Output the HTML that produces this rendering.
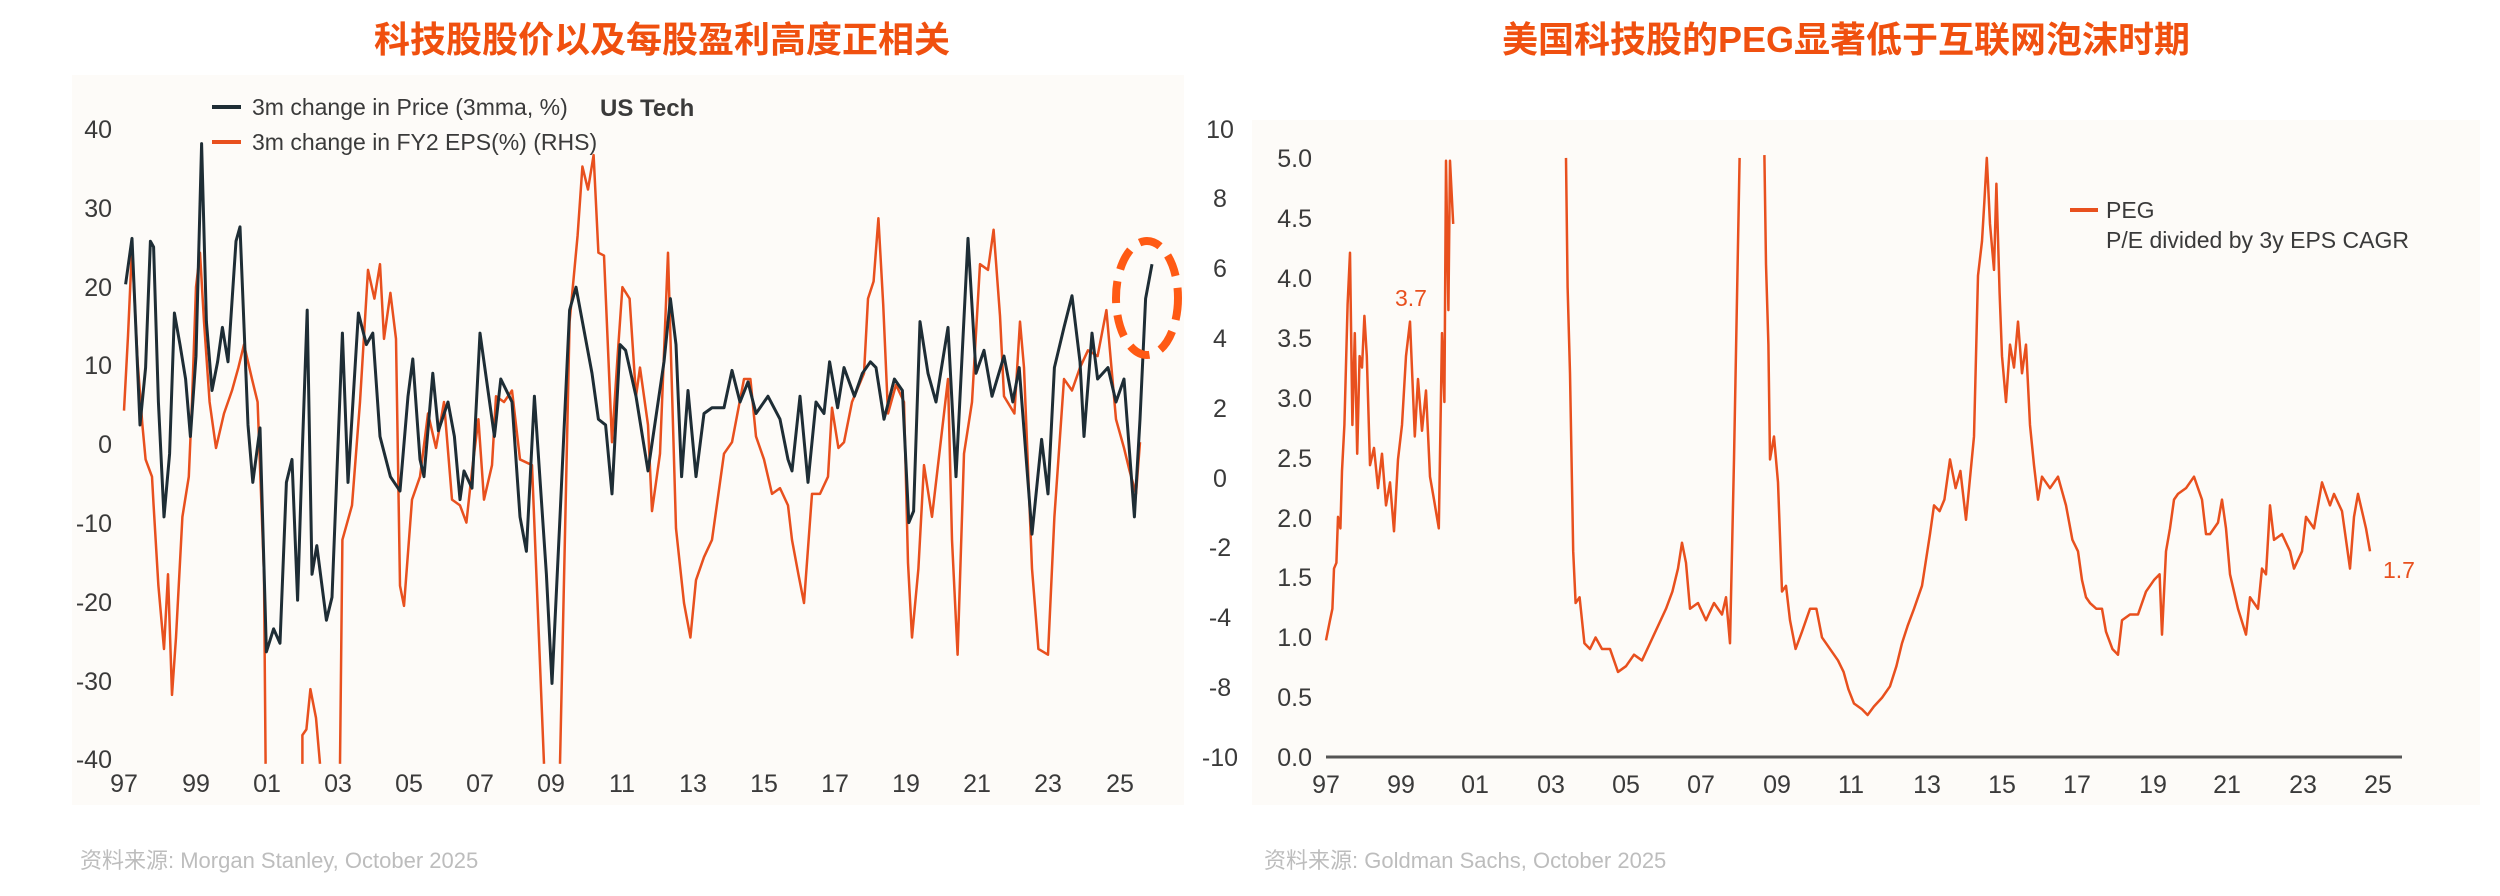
<!DOCTYPE html>
<html><head><meta charset="utf-8"><style>
html,body{margin:0;padding:0;background:#fff;}
body{width:2500px;height:896px;overflow:hidden;position:relative;}
svg{position:absolute;left:0;top:0;}
.t{font-family:"Liberation Sans Narrow","Liberation Sans",sans-serif;fill:#3a3a3a;font-size:25px;}
.ti{font-family:"Liberation Sans","Noto Sans CJK SC",sans-serif;font-weight:bold;fill:#f0500f;font-size:36px;}
.ft{font-family:"Liberation Sans","Noto Sans CJK SC",sans-serif;fill:#bdbdbd;font-size:22px;}
</style></head><body>
<svg width="2500" height="896" viewBox="0 0 2500 896">
<rect x="72" y="75" width="1112" height="730" fill="#fdfbf8"/>
<rect x="1252" y="120" width="1228" height="685" fill="#fdfbf8"/>
<text class="ti" x="662" y="52" text-anchor="middle">科技股股价以及每股盈利高度正相关</text>
<text class="ti" x="1846" y="52" text-anchor="middle">美国科技股的PEG显著低于互联网泡沫时期</text>
<text class="ft" x="80" y="868">资料来源: Morgan Stanley, October 2025</text>
<text class="ft" x="1264" y="868">资料来源: Goldman Sachs, October 2025</text>

<!-- Left chart labels -->
<g class="t" text-anchor="end">
<text x="112" y="138">40</text><text x="112" y="217">30</text><text x="112" y="296">20</text><text x="112" y="374">10</text><text x="112" y="453">0</text><text x="112" y="532">-10</text><text x="112" y="611">-20</text><text x="112" y="690">-30</text><text x="112" y="768">-40</text>
</g>
<g class="t" text-anchor="middle">
<text x="1220" y="138">10</text><text x="1220" y="207">8</text><text x="1220" y="277">6</text><text x="1220" y="347">4</text><text x="1220" y="417">2</text><text x="1220" y="487">0</text><text x="1220" y="556">-2</text><text x="1220" y="626">-4</text><text x="1220" y="696">-8</text><text x="1220" y="766">-10</text>
</g>
<g class="t" text-anchor="middle">
<text x="124" y="792">97</text><text x="196" y="792">99</text><text x="267" y="792">01</text><text x="338" y="792">03</text><text x="409" y="792">05</text><text x="480" y="792">07</text><text x="551" y="792">09</text><text x="622" y="792">11</text><text x="693" y="792">13</text><text x="764" y="792">15</text><text x="835" y="792">17</text><text x="906" y="792">19</text><text x="977" y="792">21</text><text x="1048" y="792">23</text><text x="1120" y="792">25</text>
</g>
<line x1="212" y1="107" x2="241" y2="107" stroke="#1e2d35" stroke-width="4"/>
<line x1="212" y1="142" x2="241" y2="142" stroke="#e8501e" stroke-width="4"/>
<text class="t" x="252" y="115" style="font-size:23px">3m change in Price (3mma, %)</text>
<text class="t" x="252" y="150" style="font-size:23px">3m change in FY2 EPS(%) (RHS)</text>
<text class="t" x="600" y="116" style="font-size:24px;font-weight:bold">US Tech</text>

<g transform="scale(0.8,0.5743)" fill="none" stroke-linejoin="round" vector-effect="non-scaling-stroke">
<polyline stroke="#e8501e" stroke-width="2.5" vector-effect="non-scaling-stroke" points="155,715 160,585 165,430 172,630 178,740 182,800 190,830 192,880 198,1020 205,1130 210,1000 215,1210 220,1110 228,900 236,830 240,700 245,500 250,440 255,560 262,700 270,780 280,720 290,680 298,640 305,600 315,660 322,700 330,1000 332,1330"/>
<polyline stroke="#e8501e" stroke-width="2.5" vector-effect="non-scaling-stroke" points="378,1330 378,1280 383,1270 388,1200 395,1250 400,1330"/>
<polyline stroke="#e8501e" stroke-width="2.5" vector-effect="non-scaling-stroke" points="425,1330 428,940 440,880 450,700 460,470 468,520 475,460 480,590 488,510 495,590 500,1020 505,1055 515,870 525,830 535,720 545,780 555,700 565,870 575,880 583,910 590,820 598,730 605,870 615,810 620,690 630,700 640,680 650,800 665,810 680,1330"/>
<polyline stroke="#e8501e" stroke-width="2.5" vector-effect="non-scaling-stroke" points="700,1330 705,1010 712,560 722,410 728,290 735,330 742,270 748,440 755,445 765,770 772,620 778,500 787,520 795,690 800,640 810,740 815,890 825,790 835,440 845,920 855,1050 863,1110 870,1010 880,970 890,940 900,840 905,790 915,770 930,660 938,660 945,760 955,800 965,860 975,850 985,880 990,940 998,1000 1005,1050 1015,860 1025,860 1035,830 1040,710 1048,780 1055,770 1065,700 1080,650 1085,520 1092,490 1098,380 1104,530 1110,720 1120,670 1130,700 1135,980 1140,1110 1148,990 1155,810 1165,900 1175,780 1185,660 1190,940 1197,1140 1205,790 1215,700 1225,460 1235,470 1242,400 1250,550 1255,690 1268,720 1275,560 1280,640 1290,990 1298,1130 1310,1140 1318,900 1330,660 1340,680 1350,640 1360,610 1372,620 1383,540 1395,730 1405,780 1412,820 1420,860 1425,770"/>
<polyline stroke="#1e2d35" stroke-width="3" vector-effect="non-scaling-stroke" points="157,495 165,415 175,740 182,640 188,420 192,430 198,700 205,900 212,790 218,545 225,600 232,660 238,760 245,620 252,250 258,560 265,680 272,630 278,570 285,630 295,420 300,395 310,740 316,840 325,745 333,1135 342,1095 350,1120 358,840 365,800 372,1045 378,780 384,540 390,1000 396,950 408,1080 415,1040 428,580 435,840 448,545 458,600 466,580 475,760 488,830 500,855 510,690 516,625 525,800 530,830 541,650 548,750 560,700 568,760 575,870 580,820 590,850 600,580 610,680 618,760 626,660 640,700 650,900 658,960 668,690 683,1000 690,1190 700,900 712,540 720,500 728,560 740,650 748,730 757,740 765,860 775,600 782,610 795,690 810,820 830,630 838,520 845,600 852,830 860,680 870,830 880,720 890,710 905,710 915,645 925,700 935,665 945,720 960,690 975,730 985,800 990,820 1000,690 1010,840 1020,700 1030,720 1037,630 1047,710 1055,640 1068,690 1078,650 1088,630 1095,640 1105,730 1118,660 1128,680 1136,910 1142,890 1150,560 1160,650 1170,700 1185,570 1195,830 1210,415 1220,650 1230,610 1240,690 1255,620 1266,700 1274,640 1290,930 1302,765 1310,860 1318,640 1330,570 1340,515 1350,630 1355,760 1365,580 1372,660 1385,640 1395,700 1405,660 1418,900 1425,730 1432,520 1440,460"/>
</g>
<ellipse cx="1147" cy="298" rx="31" ry="57" fill="none" stroke="#ff5a14" stroke-width="8" stroke-dasharray="22,12"/>

<!-- Right chart -->
<g class="t" text-anchor="end">
<text x="1312" y="167">5.0</text><text x="1312" y="227">4.5</text><text x="1312" y="287">4.0</text><text x="1312" y="347">3.5</text><text x="1312" y="407">3.0</text><text x="1312" y="467">2.5</text><text x="1312" y="527">2.0</text><text x="1312" y="586">1.5</text><text x="1312" y="646">1.0</text><text x="1312" y="706">0.5</text><text x="1312" y="766">0.0</text>
</g>
<line x1="1326" y1="757" x2="2402" y2="757" stroke="#555" stroke-width="3"/>
<g class="t" text-anchor="middle">
<text x="1326" y="793">97</text><text x="1401" y="793">99</text><text x="1475" y="793">01</text><text x="1551" y="793">03</text><text x="1626" y="793">05</text><text x="1701" y="793">07</text><text x="1777" y="793">09</text><text x="1851" y="793">11</text><text x="1927" y="793">13</text><text x="2002" y="793">15</text><text x="2077" y="793">17</text><text x="2153" y="793">19</text><text x="2227" y="793">21</text><text x="2303" y="793">23</text><text x="2378" y="793">25</text>
</g>
<line x1="2070" y1="210" x2="2098" y2="210" stroke="#e8501e" stroke-width="4"/>
<text class="t" x="2106" y="218" style="font-size:23px">PEG</text>
<text class="t" x="2106" y="248" style="font-size:23px">P/E divided by 3y EPS CAGR</text>
<text class="t" x="1395" y="306" style="font-size:23px;fill:#e8501e">3.7</text>
<text class="t" x="2383" y="578" style="font-size:23px;fill:#e8501e">1.7</text>
<g transform="translate(1250,0) scale(0.8,0.5743)" fill="none" stroke="#e8501e" stroke-linejoin="round">
<polyline stroke-width="2.5" vector-effect="non-scaling-stroke" points="95,1115 100,1080 103,1060 105,990 108,980 110,900 113,920 115,820 118,740 122,530 125,440 128,740 131,580 134,790 137,620 140,640 143,550 146,620 150,810 155,780 160,850 165,790 170,880 175,840 180,925 185,800 190,740 195,620 200,560 203,660 206,760 210,660 215,750 220,680 225,830 230,870 236,920 240,580 243,700 245,280 248,540 250,280 254,390"/>
<polyline stroke-width="2.5" vector-effect="non-scaling-stroke" points="395,275 397,500 400,650 404,960 407,1050 412,1040 418,1120 425,1130 432,1110 440,1130 450,1130 460,1170 470,1160 480,1140 490,1150 500,1120 510,1090 520,1060 528,1030 535,990 540,945 545,980 550,1060 560,1050 570,1080 580,1050 590,1070 595,1040 600,1120 605,800 612,275"/>
<polyline stroke-width="2.5" vector-effect="non-scaling-stroke" points="643,270 645,460 648,600 650,800 655,760 660,840 665,1030 670,1020 675,1080 682,1130 690,1100 700,1060 708,1060 715,1110 725,1130 735,1150 742,1170 748,1200 755,1225 765,1235 772,1245 780,1230 790,1215 800,1195 808,1160 815,1120 822,1090 830,1060 840,1020 850,930 855,880 862,890 868,870 875,800 882,850 888,820 895,905 905,760 910,480 915,420 918,350 921,275 925,390 930,470 933,320 937,510 940,620 945,700 950,600 955,640 960,560 965,650 970,600 975,740 980,810 985,870 990,830 1000,850 1010,830 1020,880 1028,940 1035,960 1040,1010 1045,1040 1050,1050 1058,1060 1065,1060 1070,1100 1078,1130 1085,1140 1090,1080 1100,1070 1110,1070 1120,1030 1130,1010 1137,1000 1140,1105 1145,960 1150,920 1155,870 1160,860 1170,850 1180,830 1190,870 1195,930 1200,930 1210,910 1215,870 1220,920 1225,1000 1235,1060 1245,1105 1250,1040 1260,1060 1265,990 1270,1000 1275,880 1280,940 1290,930 1300,960 1305,990 1315,960 1320,900 1330,920 1340,840 1350,880 1355,860 1365,890 1375,990 1380,900 1385,860 1395,920 1400,960"/>
</g>
</svg>
</body></html>
